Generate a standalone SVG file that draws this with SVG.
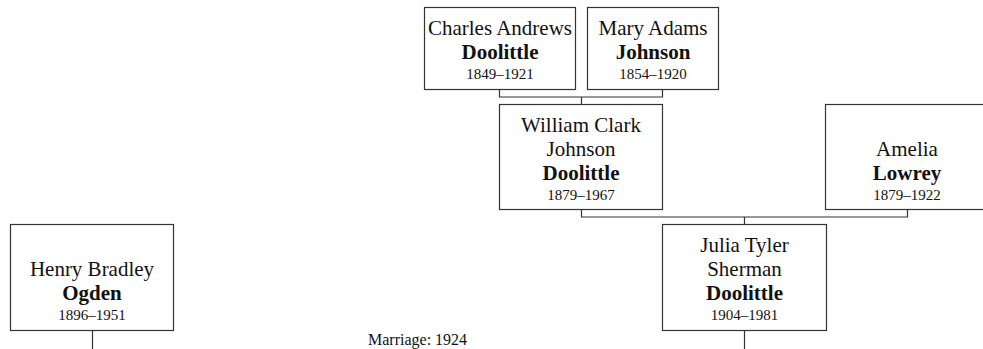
<svg xmlns="http://www.w3.org/2000/svg" width="983" height="349" viewBox="0 0 983 349">
<style>
.box{fill:#fff;stroke:#333;stroke-width:1.2}
.conn{fill:none;stroke:#333;stroke-width:1.2}
text{font-family:"Liberation Serif","Times New Roman",serif;fill:#111;text-anchor:middle}
.n{font-size:21px}
.s{font-size:21px;font-weight:bold}
.y{font-size:15px}
.m{font-size:16px;text-anchor:start}
</style>
<rect width="983" height="349" fill="#fff"/>
<g id="connectors">
<path class="conn" d="M499.5,89 V97 H662.5 V89 M581.5,97 V104"/>
<path class="conn" d="M581.5,209 V217 H907.5 V209 M744.5,217 V224"/>
<path class="conn" d="M744.5,330 V349"/>
<path class="conn" d="M92.5,330 V349"/>
</g>
<g id="charles">
<rect class="box" x="424.5" y="7.5" width="151" height="82"/>
<text class="n" x="500" y="35">Charles Andrews</text>
<text class="s" x="500" y="59">Doolittle</text>
<text class="y" x="500" y="79">1849–1921</text>
</g>
<g id="mary">
<rect class="box" x="587.5" y="7.5" width="131" height="82"/>
<text class="n" x="653" y="35">Mary Adams</text>
<text class="s" x="653" y="59">Johnson</text>
<text class="y" x="653" y="79">1854–1920</text>
</g>
<g id="william">
<rect class="box" x="499.5" y="104.5" width="163" height="105"/>
<text class="n" x="581" y="132">William Clark</text>
<text class="n" x="581" y="156">Johnson</text>
<text class="s" x="581" y="180">Doolittle</text>
<text class="y" x="581" y="200">1879–1967</text>
</g>
<g id="amelia">
<rect class="box" x="825.5" y="104.5" width="163" height="105"/>
<text class="n" x="907" y="156">Amelia</text>
<text class="s" x="907" y="180">Lowrey</text>
<text class="y" x="907" y="200">1879–1922</text>
</g>
<g id="julia">
<rect class="box" x="662.5" y="224.5" width="164" height="106"/>
<text class="n" x="744.5" y="252">Julia Tyler</text>
<text class="n" x="744.5" y="276">Sherman</text>
<text class="s" x="744.5" y="300">Doolittle</text>
<text class="y" x="744.5" y="320">1904–1981</text>
</g>
<g id="henry">
<rect class="box" x="10.5" y="224.5" width="163" height="106"/>
<text class="n" x="92" y="276">Henry Bradley</text>
<text class="s" x="92" y="300">Ogden</text>
<text class="y" x="92" y="320">1896–1951</text>
</g>
<text class="m" x="368" y="345">Marriage: 1924</text>
</svg>
